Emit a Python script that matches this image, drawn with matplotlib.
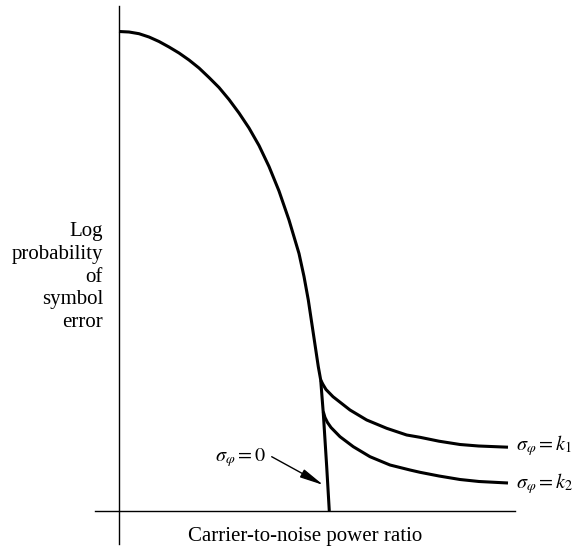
import matplotlib.pyplot as plt

plt.rcParams['font.family'] = ['Liberation Serif', 'DejaVu Serif']
plt.rcParams['mathtext.fontset'] = 'stix'

# curve values (arbitrary units: carrier-to-noise vs log P)
cnr_main = [0, 10, 20, 30, 40, 50, 60, 70, 80, 90, 100, 110, 120, 130, 140, 150,
            160, 170, 180, 185, 189.3, 194.3, 199.3, 201.7, 204.3, 207.7, 210.3]
logp_main = [479.5, 479, 477.3, 474, 469.5, 464, 458, 451, 443, 433.5, 423.5, 411.5,
             398, 383, 365.5, 344.5, 320, 291, 257.5, 234.5, 211, 177.7, 144.3, 131,
             97.7, 44.3, 0]

cnr_k1 = [201.7, 204, 207, 214, 231, 247.7, 267.7, 287.7, 301, 320, 341, 359.5, 389]
logp_k1 = [131, 126.5, 121.5, 114.3, 101, 91, 82.7, 76, 73.7, 69.8, 66.5, 65, 63.8]

cnr_k2 = [204.3, 206, 208.5, 212, 221, 234.3, 251, 271, 291, 301, 320, 341, 360, 389]
logp_k2 = [99.3, 93.5, 88.5, 83.5, 74.3, 64.3, 54.3, 46, 41, 38.7, 35, 31.5, 29.5, 28]

fig = plt.figure(figsize=(5.77, 5.49), dpi=100)
ax = fig.add_axes([0, 0, 1, 1])
ax.set_xlim(-119, 458)
ax.set_ylim(-38, 511)
ax.axis('off')

# axes drawn as plain lines
ax.plot([0, 0], [-33, 505], color='black', lw=1.0)
ax.plot([-24, 396], [0, 0], color='black', lw=1.0)

for xs, ys in [(cnr_main, logp_main), (cnr_k1, logp_k1), (cnr_k2, logp_k2)]:
    ax.plot(xs, ys, color='black', lw=2.2, solid_capstyle='butt', solid_joinstyle='round')

fs = 15
ax.text(397, 61, r'$\sigma_\varphi = k_1$', fontsize=14.5, ha='left', va='baseline')
ax.text(397, 23, r'$\sigma_\varphi = k_2$', fontsize=14.5, ha='left', va='baseline')
ax.text(147, 50, r'$\sigma_\varphi = 0$', fontsize=14.5, ha='right', va='baseline')
ax.annotate('', xy=(204.3, 26), xytext=(152.7, 54.3),
            arrowprops=dict(arrowstyle='-|>,head_length=0.9,head_width=0.17', color='black',
                            lw=1.0, mutation_scale=16, shrinkA=0, shrinkB=0))

ax.text(-16, 234, 'Log\nprobability\nof\nsymbol\nerror', fontsize=fs,
        ha='right', va='center', multialignment='right', linespacing=1.28)
ax.text(186, -26, 'Carrier-to-noise power ratio', fontsize=fs, ha='center', va='center')

fig.savefig('out.png', dpi=100)
